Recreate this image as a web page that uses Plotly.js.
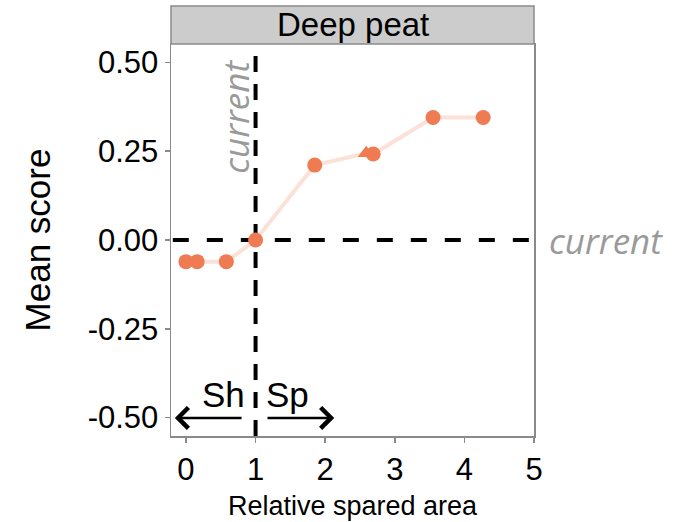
<!DOCTYPE html>
<html><head><meta charset="utf-8">
<script src="https://cdn.plot.ly/plotly-3.0.1.min.js"></script>
<style>body{margin:0;background:#fff}#c{width:685px;height:522px}</style>
</head><body><div id="c"></div>
<script>
const relArea = [0.0, 0.16, 0.58, 1.0, 1.85, 2.59, 2.69, 3.55, 4.27];
const meanScore = [-0.061, -0.061, -0.061, 0.0, 0.211, 0.244, 0.242, 0.345, 0.345];
const symbols = ['circle','circle','circle','circle','circle','triangle-up','circle','circle','circle'];
const panelTitle = 'Deep peat';
const xTicks = [0,1,2,3,4,5];
const yTicks = [-0.5,-0.25,0,0.25,0.5];
const yTickText = ['-0.50','-0.25','0.00','0.25','0.50'];

const grey = '#9a9a9a';
const trace = {
  x: relArea, y: meanScore, type: 'scatter', mode: 'lines+markers',
  line: {color: '#fbe1d7', width: 4},
  marker: {color: '#ee7b52', size: 15, symbol: symbols},
  cliponaxis: false, showlegend: false, hoverinfo: 'skip'
};
const layout = {
  width: 685, height: 522,
  margin: {l: 171, r: 151, t: 44, b: 86},
  paper_bgcolor: '#fff', plot_bgcolor: '#fff',
  showlegend: false,
  font: {family: 'Arial, Liberation Sans, sans-serif', color: '#000'},
  xaxis: {
    range: [-0.215, 5.0], tickvals: xTicks, ticktext: xTicks.map(String),
    showgrid: false, zeroline: false, showline: true, mirror: true,
    linecolor: '#8a8a8a', linewidth: 1.5,
    ticks: 'outside', ticklen: 5, tickcolor: '#8a8a8a', tickwidth: 1.5,
    tickfont: {size: 31, color: '#000'},
    title: {text: 'Relative spared area', font: {size: 27, color: '#000'}, standoff: 10}
  },
  yaxis: {
    range: [-0.552, 0.552], tickvals: yTicks, ticktext: yTickText,
    showgrid: false, zeroline: false, showline: true, mirror: true,
    linecolor: '#8a8a8a', linewidth: 1.5,
    ticks: 'outside', ticklen: 5, tickcolor: '#8a8a8a', tickwidth: 1.5,
    tickfont: {size: 31, color: '#000'},
    title: {text: 'Mean score', font: {size: 35, color: '#000'}, standoff: 26}
  },
  shapes: [
    {type: 'rect', xref: 'paper', yref: 'paper', x0: 0, x1: 1, y0: 1, y1: 1 + 38/392,
     fillcolor: '#cccccc', line: {color: '#8a8a8a', width: 1.5}, layer: 'above'},
    {type: 'line', xref: 'x', yref: 'paper', x0: 1, x1: 1, y0: 0, y1: 1,
     line: {color: '#000', width: 4, dash: '16px,12px'}, layer: 'below'},
    {type: 'line', xref: 'paper', yref: 'y', x0: 0.005, x1: 0.99, y0: 0, y1: 0,
     line: {color: '#000', width: 4, dash: '16px,18px'}, layer: 'below'}
  ],
  annotations: [
    {xref: 'paper', yref: 'paper', x: 0.5, y: 1 + 19/392, text: panelTitle, showarrow: false,
     font: {size: 33, color: '#000'}, xanchor: 'center', yanchor: 'middle'},
    {xref: 'x', yref: 'y', x: 0.70, y: 0.346, text: 'current', textangle: -90, showarrow: false,
     font: {family: 'Open Sans, sans-serif', size: 35, color: grey, style: 'italic'}, xanchor: 'center', yanchor: 'middle'},
    {xref: 'paper', yref: 'y', x: 1.198, y: 0, text: 'current', showarrow: false,
     font: {family: 'Open Sans, sans-serif', size: 35, color: grey, style: 'italic'}, xanchor: 'center', yanchor: 'middle'},
    {xref: 'x', yref: 'y', x: 0.54, y: -0.434, text: 'Sh', showarrow: false,
     font: {size: 35, color: '#000'}, xanchor: 'center', yanchor: 'middle'},
    {xref: 'x', yref: 'y', x: 1.46, y: -0.434, text: 'Sp', showarrow: false,
     font: {size: 35, color: '#000'}, xanchor: 'center', yanchor: 'middle'},
    {xref: 'x', yref: 'y', axref: 'x', ayref: 'y', x: -0.16, y: -0.501, ax: 0.82, ay: -0.501,
     text: '', showarrow: true, arrowhead: 4, arrowsize: 1.6, arrowwidth: 2.5, arrowcolor: '#000'},
    {xref: 'x', yref: 'y', axref: 'x', ayref: 'y', x: 2.13, y: -0.501, ax: 1.15, ay: -0.501,
     text: '', showarrow: true, arrowhead: 4, arrowsize: 1.6, arrowwidth: 2.5, arrowcolor: '#000'}
  ]
};
Plotly.newPlot('c', [trace], layout, {displayModeBar: false, staticPlot: true});
</script></body></html>
